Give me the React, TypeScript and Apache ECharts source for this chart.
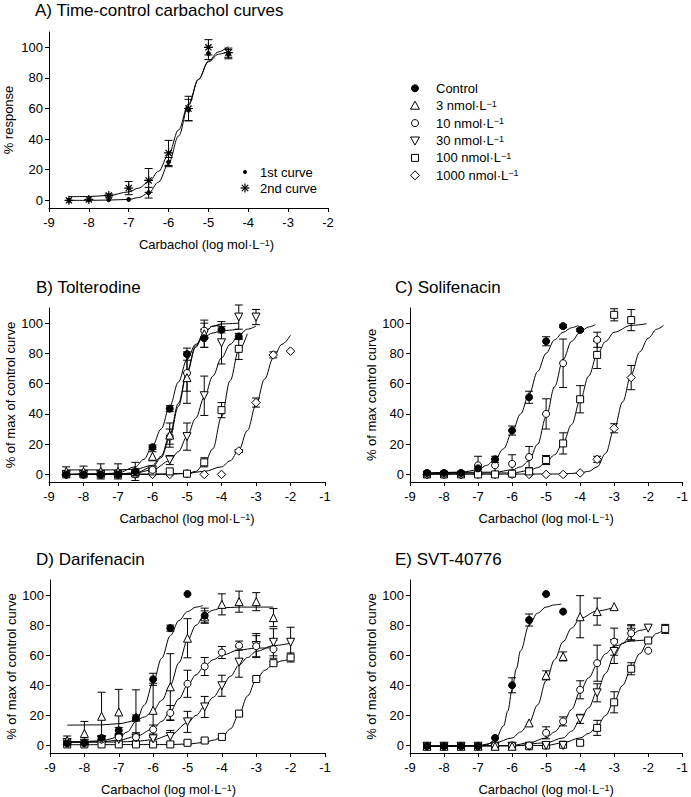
import React, { useEffect, useRef } from 'react';
import * as echarts from 'echarts';

const FONT = "'Liberation Sans', Arial, Helvetica, sans-serif";

// ---------- shared concentration grid (log mol/L) ----------
const logConcA = [-8.5, -8, -7.5, -7, -6.5, -6, -5.5, -5, -4.5];
const logConc = [-8.5, -8, -7.5, -7, -6.5, -6, -5.5, -5, -4.5, -4, -3.5, -3, -2.5, -2, -1.5];
const yTicks = [0, 20, 40, 60, 80, 100];

// ---------- Panel A: time-control ----------
const aFirst = [0, 0.4, 0.4, 0.6, 5, 25, 59, 96, 95.5];
const aFirstErr = [0, 0, 0, 0, 3.5, 3, 7, 4, 3];
const aSecond = [0, 0.6, 3.2, 8, 13, 31, 60, 100, 96.5];
const aSecondErr = [0, 0, 1, 4.3, 7.8, 8.2, 8, 5, 3];
const aFirstCurve = [[-8.5, 0], [-8, 0], [-7.5, 0.2], [-7, 0.6], [-6.75, 1.8], [-6.5, 4.8], [-6.25, 12], [-6, 24], [-5.75, 42], [-5.5, 62], [-5.25, 79], [-5, 90.5], [-4.75, 95.5], [-4.5, 97.3]];
const aSecondCurve = [[-8.5, 2.4], [-8, 2.5], [-7.5, 3.2], [-7, 5.5], [-6.75, 8], [-6.5, 12], [-6.25, 19], [-6, 30], [-5.75, 46], [-5.5, 63], [-5.25, 79], [-5, 91], [-4.75, 97], [-4.5, 100.5]];

// ---------- Panel B: Tolterodine ----------
const bControl = [0, 0, 0, 0, 2, 18, 43.5, 79.5, 90, 95.6, 91.2, null, null, null, null];
const bControlErr = [0, 0, 0, 0, 1, 1.5, 2, 4, 6, 2, 2, 0, 0, 0, 0];
const b3 = [2, 2, 2, 2, 2, 12, 26, 64, 93, null, null, null, null, null, null];
const b3Err = [3, 3.5, 5, 5, 6, 3, 8, 17, 9, 0, 0, 0, 0, 0, 0];
const b10 = [0, 0, 0, 0, 0.5, 3, 25, 67, 95, null, null, null, null, null, null];
const b10Err = [0, 0, 0, 0, 0.5, 1, 5, 12, 5, 0, 0, 0, 0, 0, 0];
const b30 = [0, 0, 0, 0, 0.5, 3, 9.5, 25, 52, 87, 104, 104, null, null, null];
const b30Err = [0, 0, 0, 0, 0.5, 1, 3, 9, 13, 14, 8, 5, 0, 0, 0];
const b100 = [0, 0, 0, 0, 0.5, 2, 2, 0.5, 8, 42.5, 83, null, null, null, null];
const b100Err = [0, 0, 0, 0, 0, 0, 0, 0, 3, 5, 7, 0, 0, 0, 0];
const b1000 = [0, 0, 0, 0, 0, 0, 0, 0.5, 0, 0, 15.5, 47.5, 79, 81.5, null];
const b1000Err = [0, 0, 0, 0, 0, 0, 0, 0, 0, 0, 1, 3, 2, 0, 0];
const bControlCurve = [[-8.5, 0], [-7.5, 0.3], [-7, 1], [-6.5, 5], [-6.25, 10], [-6, 19], [-5.75, 30], [-5.5, 45], [-5.25, 61], [-5, 76], [-4.75, 86], [-4.5, 91], [-4.25, 93.5], [-4, 95], [-3.5, 96]];
const b3Curve = [[-8.5, 3], [-7, 3], [-6.5, 3.5], [-6, 6], [-5.75, 12], [-5.5, 26], [-5.25, 47], [-5, 68], [-4.75, 85], [-4.5, 94], [-4.25, 98], [-4, 99.5], [-3.5, 100]];
const b10Curve = [[-8.5, 0], [-7, 0.3], [-6.5, 1], [-6, 5], [-5.75, 11], [-5.5, 24], [-5.25, 45], [-5, 67], [-4.75, 84], [-4.5, 94], [-4.25, 98], [-4, 99]];
const b30Curve = [[-8.5, 0], [-7, 0.3], [-6.5, 1], [-6, 3], [-5.5, 9], [-5.25, 15], [-5, 25], [-4.75, 37], [-4.5, 51], [-4.25, 65], [-4, 77], [-3.75, 86], [-3.5, 92], [-3.25, 96], [-3, 98]];
const b100Curve = [[-8.5, 0], [-6, 0], [-5, 0.5], [-4.75, 2], [-4.5, 7], [-4.25, 17], [-4, 38], [-3.75, 62], [-3.5, 82], [-3.25, 93]];
const b1000Curve = [[-8.5, 0], [-5.5, 0.3], [-5, 0.8], [-4.5, 2], [-4, 5], [-3.75, 9], [-3.5, 16], [-3.25, 29], [-3, 46], [-2.75, 63], [-2.5, 77], [-2.25, 86], [-2, 92]];

// ---------- Panel C: Solifenacin ----------
const cControl = [1, 1, 1, 4, 10, 29, 51, 88, 98, 95.5, null, null, null, null, null];
const cControlErr = [0, 0, 0, 2, 2, 3, 4, 3, 1, 1, 0, 0, 0, 0, 0];
const c10 = [0, 0, 0, 6, 6, 7, 11.5, 40, 73.5, null, 89, null, null, null, null];
const c10Err = [0, 0, 0, 6, 4, 6, 7, 10, 16, 0, 5, 0, 0, 0, 0];
const c100 = [0, 0, 0, 0, 0, 0.5, 2, 9.5, 20.5, 49.7, 79, 105.5, 102, null, null];
const c100Err = [0, 0, 0, 0, 0, 0, 1, 3, 7, 9, 9, 4, 7, 0, 0];
const c1000 = [0, 0, 0, 0, 0, 0, 0, 0, 0, 1, 10, 30.5, 64, null, null];
const c1000Err = [0, 0, 0, 0, 0, 0, 0, 0, 0, 0, 2, 3, 8, 0, 0];
const cControlCurve = [[-8.5, 1], [-7.5, 1.5], [-7, 3], [-6.75, 6], [-6.5, 10], [-6.25, 17], [-6, 28], [-5.75, 40], [-5.5, 53], [-5.25, 68], [-5, 80], [-4.75, 89], [-4.5, 94], [-4.25, 97], [-4.05, 98.5]];
const c10Curve = [[-8.5, 1], [-6.5, 1.5], [-6, 3], [-5.75, 5], [-5.5, 9], [-5.25, 20], [-5, 38], [-4.75, 58], [-4.5, 76], [-4.25, 88], [-4, 94], [-3.75, 97.5], [-3.55, 99]];
const c100Curve = [[-8.5, 0.5], [-6, 1], [-5.5, 2.5], [-5.25, 4.5], [-5, 8], [-4.75, 13], [-4.5, 21], [-4.25, 33], [-4, 49], [-3.75, 65], [-3.5, 79], [-3.25, 88], [-3, 94], [-2.5, 98.5], [-2.05, 99.6]];
const c1000Curve = [[-8.5, 0], [-4.5, 0.3], [-4, 1], [-3.75, 2], [-3.5, 5], [-3.25, 14], [-3, 30], [-2.75, 48], [-2.5, 66], [-2.25, 81], [-2, 90], [-1.75, 96], [-1.55, 98.5]];

// ---------- Panel D: Darifenacin ----------
const dControl = [1.3, 1.8, 5, 10, 18.3, 44, 78, 100.7, 86.3, null, null, null, null, null, null];
const dControlErr = [0, 0.5, 1, 2, 2, 4, 2, 0, 5, 0, 0, 0, 0, 0, 0];
const d3 = [3.3, 8, 19.4, 22.3, 19, 23.4, 39, 71.3, 85.5, 93.8, 95.6, 95.6, 85, null, null];
const d3Err = [3, 8, 16, 15, 18, 18, 22, 13, 4, 7, 7, 6, 6, 0, 0];
const d10 = [2, 1.5, 4, 5.5, 5.5, 10.6, 21.6, 41, 52.5, 61.8, 66.4, 66, 64, null, null];
const d10Err = [1, 1, 2, 2, 3, 3, 5, 9, 6, 4, 3, 7, 6, 0, 0];
const d30 = [2, 1.5, 4, 4, 5, 4.4, 6, 15.7, 25.6, 39.7, 55.4, 66.4, 68.6, 68.6, null];
const d30Err = [1, 1, 2, 2, 2, 2, 4, 7, 7, 7, 10, 8, 9, 10, 0];
const d100 = [0.7, 0.7, 0.7, 0.7, 0.7, 0.7, 0.7, 1.8, 3.3, 5.7, 21.2, 44.2, 54.7, 58.5, null];
const d100Err = [0, 0, 0, 0, 0, 0, 0, 1, 1, 1, 1, 1, 1, 3, 0];
const dControlCurve = [[-8.5, 2.5], [-8, 2.6], [-7.5, 3.2], [-7, 5.5], [-6.75, 9], [-6.5, 16], [-6.25, 27], [-6, 42], [-5.75, 58], [-5.5, 73], [-5.25, 83], [-5, 89], [-4.75, 92], [-4.55, 93]];
const d3Curve = [[-8.5, 13.5], [-7.5, 13.7], [-7, 14.5], [-6.5, 16.5], [-6.25, 19], [-6, 23], [-5.75, 30], [-5.5, 40], [-5.25, 55], [-5, 70], [-4.75, 80], [-4.5, 87], [-4.25, 90], [-4, 91.5], [-3.5, 92], [-2.5, 92]];
const d10Curve = [[-8.5, 2], [-7.5, 2.5], [-7, 3.5], [-6.5, 6], [-6, 11], [-5.75, 16], [-5.5, 22.5], [-5.25, 31], [-5, 40], [-4.75, 47], [-4.5, 53], [-4.25, 57], [-4, 60], [-3.5, 63.5], [-3, 64.7], [-2.5, 65]];
const d30Curve = [[-8.5, 2], [-7, 2.3], [-6.5, 2.8], [-6, 3.8], [-5.5, 7], [-5, 15], [-4.75, 20], [-4.5, 26], [-4.25, 32], [-4, 39], [-3.75, 46], [-3.5, 53.5], [-3.25, 58.5], [-3, 62.5], [-2.5, 66.4], [-2, 68]];
const d100Curve = [[-8.5, 0.5], [-5.5, 0.6], [-5, 1], [-4.5, 2], [-4.25, 3.5], [-4, 5.5], [-3.75, 11], [-3.5, 21], [-3.25, 33], [-3, 44], [-2.75, 50], [-2.5, 54], [-2.25, 56.3], [-2, 57.6]];

// ---------- Panel E: SVT-40776 ----------
const eControl = [-0.5, -0.5, -0.5, -0.5, 5, 40, 83.4, 100.7, 89, null, null, null, null, null, null];
const eControlErr = [0, 0, 0, 0, 0, 5, 4, 0, 0, 0, 0, 0, 0, 0, 0];
const e3 = [-0.5, -0.5, -0.5, -0.5, -0.5, -0.5, 15, 46.6, 59.2, 85.6, 89, 92.3, null, null, null];
const e3Err = [0, 0, 0, 0, 0, 0, 0, 3, 3, 14, 9, 0, 0, 0, 0];
const e10 = [-0.5, -0.5, -0.5, -0.5, 0, 0, 0, 8.4, 16, 37, 54.7, 69, 74.6, 63, null];
const e10Err = [0, 0, 0, 0, 0, 0, 0, 4, 3, 6, 12, 9, 5, 0, 0];
const e30 = [-0.5, -0.5, -0.5, -0.5, -0.5, -0.5, -0.5, 0, 0, 17.7, 35, 62.5, 75.3, 78, null];
const e30Err = [0, 0, 0, 0, 0, 0, 0, 0, 0, 3, 6, 8, 5, 0, 0];
const e100 = [-0.5, -0.5, -0.5, -0.5, -0.5, -0.5, -0.5, 0, 0.5, 1.8, 11.7, 28.7, 51, 69.8, 77.5];
const e100Err = [0, 0, 0, 0, 0, 0, 0, 0, 0, 1, 5, 7, 4, 0, 3];
const eControlCurve = [[-8.5, -0.5], [-7, -0.3], [-6.75, 0.5], [-6.5, 3.5], [-6.25, 13], [-6.125, 23], [-6, 37], [-5.875, 51], [-5.75, 63], [-5.5, 80], [-5.25, 88], [-5, 92], [-4.75, 93.5], [-4.55, 94]];
const e3Curve = [[-8.5, -0.5], [-7, 0], [-6.5, 1.8], [-6, 5], [-5.75, 9], [-5.5, 15], [-5.25, 27], [-5, 43], [-4.75, 57], [-4.5, 69], [-4.25, 78], [-4, 84.5], [-3.5, 89.4], [-3, 91.8]];
const e10Curve = [[-8.5, -0.5], [-6, 0], [-5.5, 1.8], [-5, 5], [-4.75, 9], [-4.5, 15], [-4.25, 24], [-4, 36], [-3.75, 45], [-3.5, 53.6], [-3.25, 61], [-3, 66], [-2.5, 69.5], [-2, 70.3]];
const e30Curve = [[-8.5, -0.5], [-6, -0.3], [-5, 1.8], [-4.5, 5], [-4.25, 9.5], [-4, 17], [-3.75, 25], [-3.5, 36], [-3.25, 48], [-3, 60], [-2.75, 68], [-2.5, 73.5], [-2.25, 76.5], [-2, 78]];
const e100Curve = [[-8.5, -0.5], [-5, 0], [-4.5, 1.8], [-4, 5], [-3.75, 8], [-3.5, 12.8], [-3.25, 20], [-3, 29.4], [-2.75, 40], [-2.5, 51.4], [-2.25, 61], [-2, 69], [-1.75, 74.5], [-1.5, 78]];

// ---------- legend labels ----------
const legendLabels = ['Control', '3 nmol·L{sup|−1}', '10 nmol·L{sup|−1}', '30 nmol·L{sup|−1}', '100 nmol·L{sup|−1}', '1000 nmol·L{sup|−1}'];
const panelTitles = ['A) Time-control carbachol curves', 'B) Tolterodine', 'C) Solifenacin', 'D) Darifenacin', 'E) SVT-40776'];
const yNames = ['% response', '% of max of control curve', '% of max control curve', '% of max of control curve', '% of max of control curve'];

const ASTERISK = 'path://M5 0L5 10M0 5L10 5M1.6 1.6L8.4 8.4M8.4 1.6L1.6 8.4';

const STYLES: Record<string, any> = {
  control: { symbol: 'circle', size: 7, rotate: 0, fill: '#000' },
  n3: { symbol: 'triangle', size: 8, rotate: 0, fill: '#fff' },
  n10: { symbol: 'circle', size: 7, rotate: 0, fill: '#fff' },
  n30: { symbol: 'triangle', size: 8, rotate: 180, fill: '#fff' },
  n100: { symbol: 'rect', size: 7, rotate: 0, fill: '#fff' },
  n1000: { symbol: 'diamond', size: 8.5, rotate: 0, fill: '#fff' },
  dot: { symbol: 'circle', size: 4, rotate: 0, fill: '#000' },
  star: { symbol: ASTERISK, size: 9, rotate: 0, fill: 'none' },
};

const GRIDS = [
  { left: 49, top: 32, width: 279, height: 176, xMax: -2, yGap: 34, xPadL: 36, xPadR: 0 },
  { left: 49, top: 308, width: 276, height: 174, xMax: -1, yGap: 29, xPadL: 0, xPadR: 0 },
  { left: 410, top: 308, width: 275, height: 174, xMax: -1, yGap: 32, xPadL: 0, xPadR: 0 },
  { left: 50, top: 580, width: 275, height: 174, xMax: -1, yGap: 30, xPadL: 0, xPadR: 38 },
  { left: 410, top: 580, width: 274, height: 174, xMax: -1, yGap: 30, xPadL: 0, xPadR: 0 },
];

function errorBarRender(params: any, api: any) {
  const x = api.value(0);
  const lo = api.value(1);
  const hi = api.value(2);
  const t = api.coord([x, hi]);
  const b = api.coord([x, lo]);
  const w = 4;
  const st = { stroke: '#000', lineWidth: 1, fill: 'none' };
  return {
    type: 'group',
    children: [
      { type: 'line', shape: { x1: t[0], y1: t[1], x2: b[0], y2: b[1] }, style: st },
      { type: 'line', shape: { x1: t[0] - w, y1: t[1], x2: t[0] + w, y2: t[1] }, style: st },
      { type: 'line', shape: { x1: b[0] - w, y1: b[1], x2: b[0] + w, y2: b[1] }, style: st },
    ],
  };
}

function groupSeries(panel: number, xs: number[], vals: (number | null)[], errs: number[], styleKey: string, name: string) {
  const st = STYLES[styleKey];
  const pts: number[][] = [];
  const bars: number[][] = [];
  xs.forEach((x, i) => {
    const v = vals[i];
    if (v === null || v === undefined) return;
    pts.push([x, v]);
    const e = errs[i] || 0;
    if (e > 0) bars.push([x, v - e, v + e]);
  });
  return [
    {
      type: 'custom', name: name + ' error', xAxisIndex: panel, yAxisIndex: panel, z: 3, silent: true,
      renderItem: errorBarRender, encode: { x: 0, y: [1, 2] }, data: bars,
    },
    {
      type: 'scatter', name, xAxisIndex: panel, yAxisIndex: panel, z: 4, silent: true,
      symbol: st.symbol, symbolSize: st.size, symbolRotate: st.rotate,
      itemStyle: { color: st.fill, borderColor: '#000', borderWidth: styleKey === 'star' ? 1.2 : 1, opacity: 1 },
      data: pts,
    },
  ];
}

function curveSeries(panel: number, data: number[][]) {
  return {
    type: 'line', xAxisIndex: panel, yAxisIndex: panel, z: 2, silent: true,
    data, showSymbol: false, symbol: 'none', smooth: 0.35, smoothMonotone: 'x',
    lineStyle: { color: '#000', width: 1 },
  };
}

export default function App() {
  const ref = useRef<HTMLDivElement>(null);
  useEffect(() => {
    if (!ref.current) return;
    const chart = echarts.init(ref.current, undefined, { renderer: 'svg' });
    const textBase = { color: '#000', fontFamily: FONT };
    const supRich = { sup: { fontSize: 9, verticalAlign: 'top', color: '#000', fontFamily: FONT } };

    const grid = GRIDS.map((g) => ({ left: g.left, top: g.top, width: g.width, height: g.height }));
    const xAxis = GRIDS.map((g, i) => ({
      gridIndex: i, type: 'value', min: -9, max: g.xMax, interval: 1,
      axisLine: { onZero: false, lineStyle: { color: '#000', width: 1 } },
      axisTick: { length: 4, lineStyle: { color: '#000' } },
      axisLabel: { ...textBase, fontSize: 13, margin: 8, showMinLabel: true, showMaxLabel: true },
      splitLine: { show: false },
      name: 'Carbachol (log mol·L{sup|−1})', nameLocation: 'middle', nameGap: 30,
      nameTextStyle: { ...textBase, fontSize: 13, padding: [0, g.xPadR, 0, g.xPadL], rich: supRich },
    }));
    const yAxis = GRIDS.map((g, i) => ({
      gridIndex: i, type: 'value', min: -5, max: 110,
      axisLine: { show: true, onZero: false, lineStyle: { color: '#000', width: 1 } },
      axisTick: { show: true, length: 4, customValues: yTicks, lineStyle: { color: '#000' } },
      axisLabel: { ...textBase, fontSize: 13, margin: 6, customValues: yTicks },
      splitLine: { show: false },
      name: yNames[i], nameLocation: 'middle', nameGap: g.yGap,
      nameTextStyle: { ...textBase, fontSize: 13 },
    }));

    const series: any[] = [
      // A
      curveSeries(0, aFirstCurve), curveSeries(0, aSecondCurve),
      ...groupSeries(0, logConcA, aFirst, aFirstErr, 'dot', '1st curve'),
      ...groupSeries(0, logConcA, aSecond, aSecondErr, 'star', '2nd curve'),
      // B
      curveSeries(1, bControlCurve), curveSeries(1, b3Curve), curveSeries(1, b10Curve),
      curveSeries(1, b30Curve), curveSeries(1, b100Curve), curveSeries(1, b1000Curve),
      ...groupSeries(1, logConc, b1000, b1000Err, 'n1000', '1000 nmol'),
      ...groupSeries(1, logConc, b100, b100Err, 'n100', '100 nmol'),
      ...groupSeries(1, logConc, b30, b30Err, 'n30', '30 nmol'),
      ...groupSeries(1, logConc, b10, b10Err, 'n10', '10 nmol'),
      ...groupSeries(1, logConc, b3, b3Err, 'n3', '3 nmol'),
      ...groupSeries(1, logConc, bControl, bControlErr, 'control', 'Control'),
      // C
      curveSeries(2, cControlCurve), curveSeries(2, c10Curve), curveSeries(2, c100Curve), curveSeries(2, c1000Curve),
      ...groupSeries(2, logConc, c1000, c1000Err, 'n1000', '1000 nmol'),
      ...groupSeries(2, logConc, c100, c100Err, 'n100', '100 nmol'),
      ...groupSeries(2, logConc, c10, c10Err, 'n10', '10 nmol'),
      ...groupSeries(2, logConc, cControl, cControlErr, 'control', 'Control'),
      // D
      curveSeries(3, dControlCurve), curveSeries(3, d3Curve), curveSeries(3, d10Curve),
      curveSeries(3, d30Curve), curveSeries(3, d100Curve),
      ...groupSeries(3, logConc, d100, d100Err, 'n100', '100 nmol'),
      ...groupSeries(3, logConc, d30, d30Err, 'n30', '30 nmol'),
      ...groupSeries(3, logConc, d10, d10Err, 'n10', '10 nmol'),
      ...groupSeries(3, logConc, d3, d3Err, 'n3', '3 nmol'),
      ...groupSeries(3, logConc, dControl, dControlErr, 'control', 'Control'),
      // E
      curveSeries(4, eControlCurve), curveSeries(4, e3Curve), curveSeries(4, e10Curve),
      curveSeries(4, e30Curve), curveSeries(4, e100Curve),
      ...groupSeries(4, logConc, e100, e100Err, 'n100', '100 nmol'),
      ...groupSeries(4, logConc, e30, e30Err, 'n30', '30 nmol'),
      ...groupSeries(4, logConc, e10, e10Err, 'n10', '10 nmol'),
      ...groupSeries(4, logConc, e3, e3Err, 'n3', '3 nmol'),
      ...groupSeries(4, logConc, eControl, eControlErr, 'control', 'Control'),
    ];

    // ---------- graphic: titles and legends ----------
    const titlePos = [[35, 10.5], [36, 287], [395, 287], [36, 559], [395, 559]];
    const graphics: any[] = panelTitles.map((t, i) => ({
      type: 'text', x: titlePos[i][0], y: titlePos[i][1], silent: true,
      style: { text: t, fill: '#000', font: `17px ${FONT}`, textAlign: 'left', textVerticalAlign: 'middle' },
    }));

    const ls = { stroke: '#000', lineWidth: 1, fill: '#fff' };
    const lx = 415;
    const ly0 = 88.3;
    const step = 17.4;
    const legendIcons = [
      (y: number) => ({ type: 'circle', shape: { cx: lx, cy: y, r: 3.5 }, style: { fill: '#000', stroke: '#000' } }),
      (y: number) => ({ type: 'polygon', shape: { points: [[lx, y - 4.5], [lx + 4.5, y + 3.5], [lx - 4.5, y + 3.5]] }, style: ls }),
      (y: number) => ({ type: 'circle', shape: { cx: lx, cy: y, r: 3.5 }, style: ls }),
      (y: number) => ({ type: 'polygon', shape: { points: [[lx - 4.5, y - 3.5], [lx + 4.5, y - 3.5], [lx, y + 4.5]] }, style: ls }),
      (y: number) => ({ type: 'rect', shape: { x: lx - 3.5, y: y - 3.5, width: 7, height: 7 }, style: ls }),
      (y: number) => ({ type: 'polygon', shape: { points: [[lx, y - 4.5], [lx + 4.5, y], [lx, y + 4.5], [lx - 4.5, y]] }, style: ls }),
    ];
    legendLabels.forEach((lab, i) => {
      const y = ly0 + i * step;
      graphics.push({ ...legendIcons[i](y), silent: true });
      graphics.push({
        type: 'text', x: 436, y, silent: true,
        style: { text: lab, fill: '#000', font: `13px ${FONT}`, textAlign: 'left', textVerticalAlign: 'middle', rich: supRich },
      });
    });

    // legend for panel A
    graphics.push({ type: 'circle', shape: { cx: 245, cy: 172, r: 2 }, style: { fill: '#000' }, silent: true });
    graphics.push({ type: 'text', x: 260, y: 172, silent: true, style: { text: '1st curve', fill: '#000', font: `13px ${FONT}`, textAlign: 'left', textVerticalAlign: 'middle' } });
    const sx = 245, sy = 188, r = 4.5, d = 3.2;
    const starLines = [[sx - r, sy, sx + r, sy], [sx, sy - r, sx, sy + r], [sx - d, sy - d, sx + d, sy + d], [sx + d, sy - d, sx - d, sy + d]];
    starLines.forEach((l) => graphics.push({ type: 'line', shape: { x1: l[0], y1: l[1], x2: l[2], y2: l[3] }, style: { stroke: '#000', lineWidth: 1.2 }, silent: true }));
    graphics.push({ type: 'text', x: 260, y: 188, silent: true, style: { text: '2nd curve', fill: '#000', font: `13px ${FONT}`, textAlign: 'left', textVerticalAlign: 'middle' } });

    chart.setOption({
      animation: false,
      backgroundColor: '#fff',
      textStyle: { fontFamily: FONT, color: '#000' },
      grid, xAxis, yAxis, series, graphic: graphics,
    });
    return () => chart.dispose();
  }, []);
  return <div ref={ref} style={{ position: 'fixed', left: 0, top: 0, width: 691, height: 797, background: '#fff' }} />;
}
